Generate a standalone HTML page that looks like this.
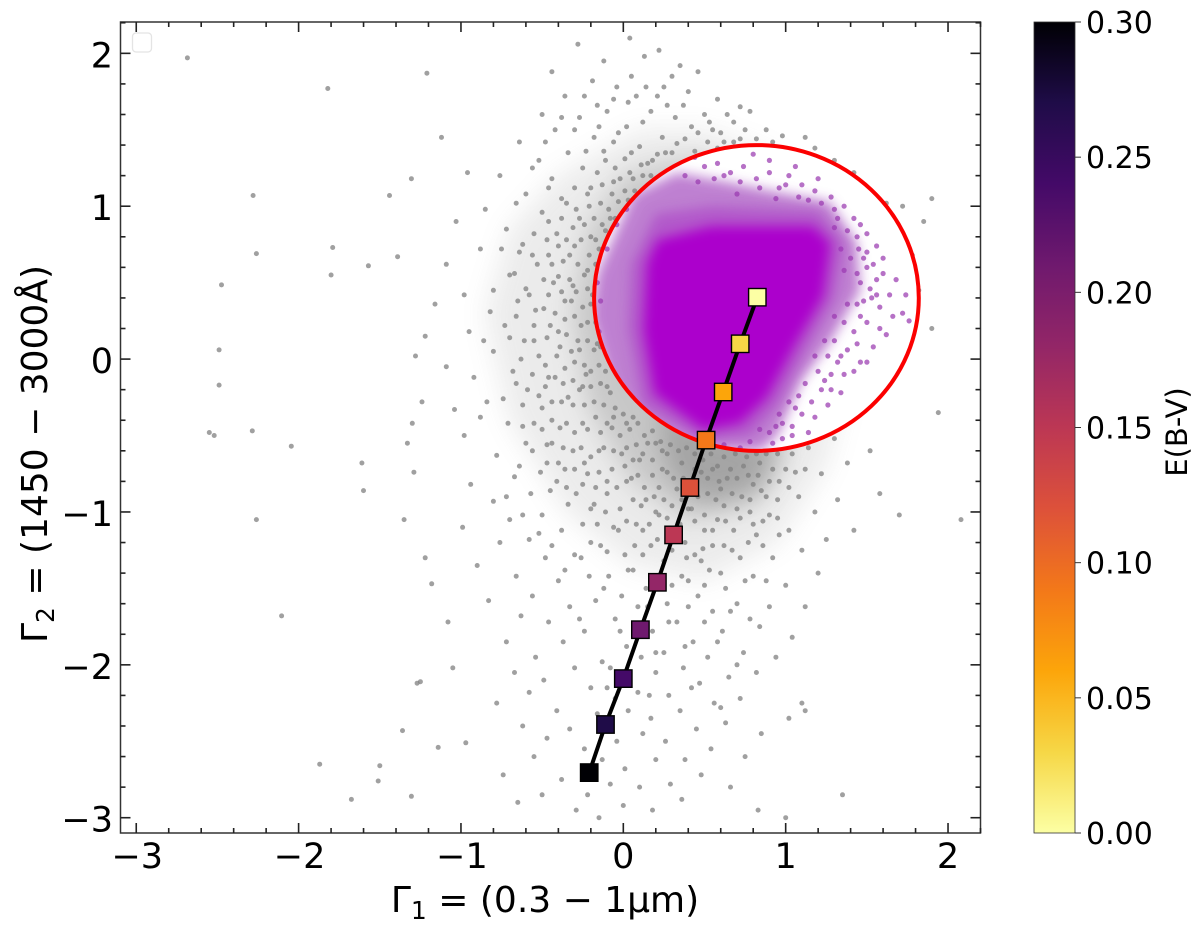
<!DOCTYPE html>
<html>
<head>
<meta charset="utf-8">
<title>Gamma colour-colour diagram</title>
<style>
html,body{margin:0;padding:0;background:#fff;width:1200px;height:931px;overflow:hidden}
svg{display:block}
text{font-family:"DejaVu Sans","Liberation Sans",sans-serif;fill:#000}
</style>
</head>
<body>
<svg id="chart" xmlns="http://www.w3.org/2000/svg" width="1200" height="931" viewBox="0 0 1200 931">
  <defs>
    <filter id="blur-wide" filterUnits="userSpaceOnUse" x="0" y="0" width="1200" height="931"><feGaussianBlur stdDeviation="13"/></filter>
    <filter id="blur-narrow" filterUnits="userSpaceOnUse" x="0" y="0" width="1200" height="931"><feGaussianBlur stdDeviation="6"/></filter>
    <clipPath id="plot-clip"><rect x="120.5" y="22" width="860" height="811"/></clipPath>
    <linearGradient id="colorbar-gradient" x1="0" y1="1" x2="0" y2="0"></linearGradient>
  </defs>
  <g id="density" clip-path="url(#plot-clip)"></g>
  <g id="grey-points" clip-path="url(#plot-clip)"></g>
  <g id="selection" clip-path="url(#plot-clip)"></g>
  <g id="track"></g>
  <rect x="132.5" y="33" width="19" height="19" rx="3.5" fill="#fff" stroke="#e4e4e4" stroke-width="1.3"/>
  <g id="axes"></g>
  <text x="545" y="912" text-anchor="middle" font-size="36">Γ<tspan font-size="25" dy="7">1</tspan><tspan dy="-7"> = (0.3 − 1μm)</tspan></text>
  <text transform="translate(47,454) rotate(-90)" text-anchor="middle" font-size="36">Γ<tspan font-size="25" dy="7">2</tspan><tspan dy="-7"> = (1450 − 3000Å)</tspan></text>
  <rect x="1034" y="22" width="41" height="811" fill="url(#colorbar-gradient)" stroke="#333" stroke-width="0.8"/>
  <g id="colorbar-axis"></g>
  <text transform="translate(1187,432) rotate(-90)" text-anchor="middle" font-size="29">E(B-V)</text>
</svg>
<script>
const xTicks = [-3, -2, -1, 0, 1, 2];
const yTicks = [-3, -2, -1, 0, 1, 2];
const colorbarTicks = [0, 0.05, 0.10, 0.15, 0.20, 0.25, 0.30];
const trackEbv = [0, 0.03, 0.06, 0.09, 0.12, 0.15, 0.18, 0.21, 0.24, 0.27, 0.30];
const trackGamma1 = [0.825, 0.72, 0.615, 0.51, 0.41, 0.31, 0.21, 0.105, 0, -0.11, -0.21];
const trackGamma2 = [0.405, 0.10, -0.215, -0.53, -0.84, -1.15, -1.46, -1.77, -2.09, -2.39, -2.705];
const colormapStops = ["#fcffa4", "#f6d746", "#fca50a", "#f37819", "#dd513a", "#bc3754", "#932667", "#6f196e", "#440a68", "#1f0c48", "#000004"];
const selectionCircle = { gamma1: 0.82, gamma2: 0.4, radius: 1 };

const greyDensityOuter = [[-0.85,0.3],[-0.7,0.85],[-0.4,1.2],[0.1,1.5],[0.5,1.5],[0.9,1.35],[1.3,1.0],[1.42,0],[1.25,-0.7],[0.95,-1.2],[0.5,-1.45],[0.05,-1.35],[-0.35,-1.0],[-0.7,-0.4]];
const greyDensityMiddle = [[-0.32,0.3],[-0.22,0.85],[0,1.2],[0.4,1.32],[0.8,1.2],[0.9,0],[1.0,-0.62],[0.8,-0.95],[0.4,-1.05],[0.05,-0.8],[-0.22,-0.3]];
const greyDensityInner = [[0.2,-0.3],[0.5,-0.45],[0.95,-0.55],[0.85,-0.85],[0.5,-0.95],[0.28,-0.75]];
const purpleFringeOutline = [[-0.16,0.56],[0.06,1.08],[0.33,1.22],[0.64,1.16],[1.01,1.08],[1.27,1.03],[1.44,0.76],[1.46,0.45],[1.28,0.12],[1.1,-0.14],[0.95,-0.5],[0.85,-0.6],[0.495,-0.6],[0.15,-0.45],[-0.08,-0.16],[-0.2,0.28]];
const purpleMidOutline = [[0.05,0.62],[0.2,0.95],[0.55,1.0],[1.2,0.97],[1.36,0.76],[1.3,0.4],[1.12,0.05],[0.95,-0.3],[0.78,-0.5],[0.495,-0.53],[0.12,-0.3],[0.03,0.2]];
const purpleCoreOutline = [[0.21,0.78],[0.54,0.87],[1.17,0.87],[1.275,0.76],[1.23,0.41],[1.05,0.08],[0.885,-0.25],[0.72,-0.42],[0.495,-0.465],[0.19,-0.225],[0.125,0.19],[0.146,0.63]];

const greyPoints = [
[-2.685,1.97],[-1.82,1.77],[-1.21,1.87],[-2.28,1.07],[-2.26,0.69],[-2.475,0.485],[-2.49,0.06],[-2.49,-0.17],[-2.55,-0.48],[-2.52,-0.5],[-2.285,-0.47],[-2.045,-0.57],[-2.26,-1.05],[-2.105,-1.68],[-1.79,0.73],[-1.8,0.55],[-1.57,0.61],[-1.39,0.67],[-1.44,1.07],[-1.305,1.18],[-1.12,1.45],[-1.61,-0.68],[-1.6,-0.86],[-1.87,-2.65],[-1.5,-2.66],[-1.51,-2.76],[-1.675,-2.88],[-1.305,-2.86],[-1.25,-2.11],[-1.27,-2.12],[-1.36,-2.43],[-1.14,-2.54],[-0.97,-2.51],[-1.24,-0.28],[-1.3,-0.42],[-1.33,-0.55],[-1.29,-0.74],[-1.35,-1.05],[-1.22,-1.3],[-1.18,-1.47],[-1.08,-1.72],[-1.05,-2.02],[-1.16,0.36],[-1.22,0.15],[-1.28,0.02],[-1.09,0.62],[-1.03,0.9],[-0.96,1.22],[-1.09,-0.05],[-1.04,-0.33],
[-0.98,0.42],[-0.95,0.18],[-0.92,-0.12],[-0.98,-0.5],[-0.94,-0.82],[-0.99,-1.1],[-0.9,-1.35],[-0.88,0.72],[-0.85,0.98],[-0.82,0.31],[-0.8,0.05],[-0.84,-0.28],[-0.78,-0.63],[-0.8,-0.93],[-0.76,-1.2],[-0.83,-1.58],[-0.72,-1.85],[-0.78,-2.25],[-0.74,-2.72],[-0.76,1.2],[-0.72,0.85],[-0.7,0.55],[-0.73,0.22],[-0.68,-0.08],[-0.71,-0.42],[-0.67,-0.77],[-0.7,-1.05],[-0.66,-1.42],[-0.63,-1.68],[-0.67,-2.05],[-0.62,-2.4],[-0.65,-2.9],[-0.64,1.42],[-0.6,1.08],[-0.62,0.75],[-0.58,0.42],[-0.61,0.12],[-0.59,-0.2],[-0.6,-0.55],[-0.57,-0.88],[-0.58,-1.18],[-0.56,-1.55],[-0.54,-1.95],[-0.58,-2.18],[-0.55,-2.6],
[-0.5,1.6],[-0.52,1.3],[-0.5,0.96],[-0.53,0.62],[-0.49,0.33],[-0.52,0.02],[-0.5,-0.32],[-0.47,-0.68],[-0.5,-1.02],[-0.48,-1.3],[-0.46,-1.72],[-0.49,-2.1],[-0.47,-2.48],[-0.5,-2.85],[-0.44,1.88],[-0.42,1.5],[-0.44,1.18],[-0.41,0.82],[-0.43,0.5],[-0.4,0.18],[-0.42,-0.12],[-0.39,-0.45],[-0.41,-0.8],[-0.38,-1.12],[-0.4,-1.45],[-0.37,-1.85],[-0.41,-2.3],[-0.38,-2.75],[-0.36,1.72],[-0.34,1.35],[-0.35,1.02],[-0.33,0.68],[-0.36,0.38],[-0.32,0.05],[-0.34,-0.25],[-0.31,-0.6],[-0.34,-0.95],[-0.3,-1.28],[-0.33,-1.62],[-0.3,-2.02],[-0.33,-2.42],[-0.29,-2.95],
[-0.28,2.06],[-0.27,1.58],[-0.25,1.25],[-0.27,0.92],[-0.24,0.55],[-0.26,0.22],[-0.23,-0.1],[-0.25,-0.42],[-0.22,-0.75],[-0.25,-1.08],[-0.21,-1.42],[-0.24,-1.78],[-0.2,-2.15],[-0.24,-2.55],[-0.22,-2.85],[-0.19,1.82],[-0.18,1.45],[-0.2,1.12],[-0.17,0.78],[-0.19,0.42],[-0.16,0.1],[-0.18,-0.28],[-0.15,-0.6],[-0.18,-0.95],[-0.14,-1.22],[-0.17,-1.58],[-0.13,-1.98],[-0.16,-2.32],[-0.13,-2.62],[-0.15,-3.0],
[-0.12,1.95],[-0.1,1.62],[-0.11,1.3],[-0.09,0.98],[-0.07,-0.45],[-0.1,-0.8],[-0.06,-1.1],[-0.09,-1.42],[-0.05,-1.7],[-0.08,-2.02],[-0.05,-2.22],[-0.04,-2.5],[-0.08,-2.78],[-0.04,1.78],[-0.03,1.48],[-0.02,1.18],[-0.01,-0.62],[-0.02,-0.98],[0.01,-1.28],[-0.01,-1.55],[0.02,-1.88],[0.03,-2.3],[0.01,-2.68],[0.0,-2.92],[0.04,2.1],[0.03,1.68],[0.05,1.35],[0.07,1.1],[0.05,-0.78],[0.08,-1.08],[0.06,-1.38],[0.09,-1.62],[0.11,-1.95],[0.09,-2.18],[0.12,-2.45],[0.1,-2.8],[0.13,1.98],[0.12,1.55],[0.15,1.28],
[0.15,-0.55],[0.14,-0.92],[0.17,-1.22],[0.14,-1.5],[0.18,-1.78],[0.2,-2.05],[0.17,-2.35],[0.2,-2.62],[0.18,-2.95],[0.22,2.02],[0.21,1.72],[0.24,1.45],[0.24,-0.72],[0.22,-1.02],[0.25,-1.32],[0.27,-1.6],[0.25,-1.92],[0.28,-2.2],[0.26,-2.5],[0.29,-2.78],[0.3,1.85],[0.32,1.58],[0.3,1.35],[0.33,-0.85],[0.34,-1.18],[0.36,-1.42],[0.33,-1.72],[0.37,-2.02],[0.35,-2.3],[0.38,-2.62],[0.36,-2.88],[0.4,1.75],[0.42,1.52],[0.42,-0.98],[0.44,-1.28],[0.46,-1.55],[0.43,-1.85],[0.47,-2.12],[0.45,-2.42],[0.48,-2.72],[0.5,1.6],[0.52,1.42],[0.5,-1.12],[0.53,-1.38],[0.55,-1.65],[0.52,-1.95],[0.56,-2.25],[0.54,-2.55],[0.58,1.7],[0.6,1.48],[0.6,-0.85],[0.62,-1.22],[0.63,-1.5],[0.61,-1.78],[0.65,-2.08],[0.63,-2.38],[0.66,-2.8],
[0.68,1.55],[0.72,1.44],[0.7,-0.98],[0.72,-1.3],[0.7,-1.6],[0.74,-1.92],[0.72,-2.22],[0.75,-2.6],[0.78,1.62],[0.8,-0.82],[0.82,-1.15],[0.8,-1.42],[0.84,-1.75],[0.82,-2.05],[0.85,-2.45],[0.83,-2.95],[0.88,1.5],[0.9,-1.02],[0.92,-1.3],[0.9,-1.62],[0.94,-1.95],[0.98,1.46],[1.0,-0.72],[1.02,-1.12],[1.0,-1.48],[1.04,-1.82],[1.02,-2.35],[1.0,-3.0],[1.08,-0.9],[1.1,-1.25],[1.12,-1.62],[1.1,-2.25],[1.12,-2.3],[1.14,-0.58],[1.18,-1.0],[1.2,-1.4],[1.22,-0.75],[1.25,-1.18],[1.3,-0.52],[1.32,-0.92],[1.35,-2.85],[1.38,-0.68],[1.42,-1.12],[1.45,-0.35],[1.52,-0.6],[1.58,-0.88],[1.7,-1.02],[1.82,0.45],[1.9,0.2],[1.94,-0.35],[1.85,0.9],[1.9,1.05],[1.72,1.0],[1.78,0.68],[2.08,-1.05],[1.12,1.45],[1.18,1.38],[1.3,1.3],[1.42,1.22],[1.5,1.12],[1.62,1.02],
[-0.35,0.78],[-0.31,0.48],[-0.28,0.12],[-0.25,-0.18],[-0.21,0.68],[-0.14,0.32],[-0.13,0.88],[-0.1,-0.18],[-0.07,1.08],[-0.05,-0.32],[0.0,0.96],[0.02,-0.42],[0.06,-0.38],[0.1,-0.66],[0.2,-0.55],[0.27,-0.62],[0.36,-0.68],[0.44,-0.72],[0.52,-0.78],[0.58,-0.7],[0.66,-0.72],[0.74,-0.7],[0.84,-0.68],[0.92,-0.72],[1.0,-0.58],[1.1,-0.52],[1.18,-0.42],[1.24,-0.5],[0.12,1.2],[0.18,1.3],[0.26,1.35],[0.38,1.44],[0.46,1.48],[0.55,1.5],
[-0.45,0.22],[-0.46,0.68],[-0.55,0.22],[-0.65,0.38],[-0.48,-0.18],[-0.55,-0.42],[-0.62,-0.3],[-0.44,-0.55],[-0.36,-0.72],[-0.29,-0.88],[-0.2,-0.98],[-0.11,-1.0],[-0.03,-1.12],[0.07,-1.22],[0.16,-1.08],[0.29,-1.12],[0.39,-1.3],[0.49,-1.24],[0.58,-1.05],[0.68,-1.12],[0.78,-1.0],[0.88,-0.9],[0.96,-1.15],[-0.23,1.36],[-0.15,1.52],[-0.06,1.42],[0.02,1.52],[0.08,1.72],[0.17,1.62],[0.27,1.66],[0.35,1.92],[0.46,1.88],
[-0.12,1.36],[0.01,1.31],[0.1,1.39],[0.21,1.34],[0.33,1.41],[0.44,1.36],[0.62,1.42],[-0.16,1.22],[-0.05,1.25],[0.04,1.22],[0.11,1.27],[0.17,1.2],[-0.3,1.12],[-0.22,1.08],[-0.13,1.14],[-0.06,1.16],[0.01,1.1],[0.06,1.18],[-0.38,1.05],[-0.29,0.98],[-0.21,1.0],[-0.14,1.02],[-0.08,0.92],[-0.03,1.03],[0.03,1.04],[-0.46,0.9],[-0.38,0.92],[-0.31,0.86],[-0.24,0.88],[-0.18,0.92],[-0.11,0.84],[-0.05,0.92],[-0.03,0.82],[-0.55,0.82],[-0.47,0.78],[-0.4,0.74],[-0.3,0.74],[-0.26,0.78],[-0.2,0.8],[-0.15,0.72],[-0.09,0.76],[-0.06,0.7],[-0.64,0.7],[-0.56,0.68],[-0.44,0.62],[-0.37,0.64],[-0.28,0.62],[-0.22,0.58],[-0.17,0.62],[-0.12,0.58],[-0.08,0.62],[-0.67,0.56],[-0.49,0.52],[-0.4,0.54],[-0.33,0.52],[-0.29,0.44],[-0.22,0.46],[-0.16,0.5],[-0.12,0.44],[-0.6,0.46],[-0.46,0.42],[-0.38,0.44],[-0.32,0.38],[-0.25,0.34],[-0.2,0.36],[-0.15,0.38],[-0.66,0.28],[-0.54,0.32],[-0.42,0.3],[-0.36,0.26],[-0.3,0.28],[-0.22,0.24],[-0.17,0.24],[-0.14,0.18],[-0.7,0.14],[-0.55,0.12],[-0.47,0.14],[-0.39,0.08],[-0.35,0.16],[-0.27,0.06],[-0.22,0.12],[-0.18,0.06],[-0.14,0.08],[-0.63,0.0],[-0.48,-0.04],[-0.41,0.02],[-0.36,-0.06],[-0.3,-0.02],[-0.24,-0.04],[-0.2,-0.08],[-0.15,-0.04],[-0.11,-0.08],[-0.66,-0.16],[-0.56,-0.1],[-0.46,-0.12],[-0.37,-0.16],[-0.31,-0.14],[-0.27,-0.2],[-0.2,-0.18],[-0.14,-0.16],[-0.08,-0.22],[-0.74,-0.26],[-0.52,-0.24],[-0.44,-0.28],[-0.38,-0.28],[-0.31,-0.3],[-0.24,-0.3],[-0.17,-0.38],[-0.12,-0.3],[-0.06,-0.38],[0.0,-0.36],
[-0.62,-0.44],[-0.5,-0.46],[-0.44,-0.4],[-0.35,-0.42],[-0.3,-0.48],[-0.22,-0.46],[-0.14,-0.48],[-0.1,-0.42],[-0.02,-0.5],[0.04,-0.46],[0.09,-0.42],[-0.56,-0.6],[-0.47,-0.56],[-0.37,-0.58],[-0.26,-0.58],[-0.2,-0.64],[-0.12,-0.58],[-0.06,-0.6],[0.02,-0.58],[0.08,-0.56],[0.13,-0.5],[0.18,-0.47],[0.23,-0.54],[-0.64,-0.7],[-0.51,-0.74],[-0.4,-0.68],[-0.3,-0.72],[-0.24,-0.68],[-0.15,-0.74],[-0.07,-0.72],[0.01,-0.7],[0.06,-0.66],[0.12,-0.62],[0.18,-0.66],[0.24,-0.6],[0.29,-0.56],[0.34,-0.6],[0.39,-0.58],[0.44,-0.62],[0.49,-0.66],[0.54,-0.62],[0.62,-0.64],[0.69,-0.62],[0.76,-0.64],[0.82,-0.62],[0.88,-0.62],[0.95,-0.62],[1.04,-0.62],[-0.45,-0.86],[-0.35,-0.84],[-0.25,-0.82],[-0.17,-0.84],[-0.1,-0.88],[-0.04,-0.84],[0.02,-0.8],[0.09,-0.76],[0.13,-0.84],[0.18,-0.76],[0.22,-0.84],[0.27,-0.74],[0.31,-0.78],[0.37,-0.78],[0.43,-0.82],[0.48,-0.74],[0.55,-0.72],[0.59,-0.8],[0.64,-0.78],[0.7,-0.78],[0.77,-0.76],[0.83,-0.76],[0.9,-0.8],[0.96,-0.8],[1.06,-0.74],[1.12,-0.72],
[0.06,-0.92],[0.11,-0.96],[0.19,-0.9],[0.25,-0.92],[0.3,-0.96],[0.36,-0.92],[0.4,-0.98],[0.46,-0.9],[0.52,-0.88],[0.57,-0.92],[0.62,-0.96],[0.67,-0.88],[0.73,-0.9],[0.78,-0.92],[0.85,-0.86],[0.95,-0.92],[1.02,-0.84],[0.02,-1.06],[0.12,-1.12],[0.2,-1.0],[0.27,-1.04],[0.35,-1.08],[0.44,-1.06],[0.5,-1.02],[0.55,-1.12],[0.63,-1.06],[0.72,-1.04],[0.8,-1.08],[0.86,-1.06],[0.95,-1.04],[0.12,-1.28],[0.21,-1.18],[0.3,-1.25],[0.38,-1.2],[0.48,-1.32],[0.55,-1.22],[0.67,-1.25],[0.77,-1.2],[0.86,-1.22],[-0.2,-1.2],[-0.1,-1.26],[0.03,-1.38],[0.21,-1.42],[0.3,-1.48],[0.4,-1.45],[0.5,-1.48],[0.6,-1.4],[0.75,-1.45],[0.88,-1.45],[-0.12,-1.5],[0.15,-1.62],[0.28,-1.72],[0.4,-1.62],[0.5,-1.72],[0.66,-1.65],[0.78,-1.7],[-0.27,-1.7],[-0.02,-1.78],[0.2,-1.92],[0.38,-1.88],[0.58,-1.85],[0.7,-2.0],[-0.1,-2.15],[0.16,-2.2],[0.42,-2.15],[0.6,-2.28],
[0.63,1.35],[0.68,1.42],[0.75,1.5],[0.82,1.44],[0.92,1.42],[0.58,1.38],[0.53,1.55],[0.64,1.6],[0.72,1.65],[0.37,1.66],[0.25,1.78],[0.14,1.78],[0.05,1.85],[-0.06,1.7],[-0.16,1.66],[-0.24,1.72],[-0.3,1.5],[-0.38,1.58],[-0.48,1.42],[-0.56,1.25],[-0.46,1.12],[-0.66,1.02],[-0.75,0.72],[-0.8,0.45],[-0.86,0.12],[-0.88,-0.38],[-0.72,-0.9],[-0.62,-1.02],[-0.52,-1.14],[-0.44,-1.22],[-0.26,-1.3],[-0.36,-1.38],[-0.16,-1.08]
];

const purplePoints = [
[1.45,0.72],[1.5,0.6],[1.52,0.46],[1.48,0.38],[1.56,0.52],[1.6,0.66],[1.46,0.28],[1.42,0.18],[1.5,0.24],[1.58,0.34],[1.64,0.42],[1.72,0.3],[1.76,0.25],[1.62,0.16],[1.54,0.08],[1.38,0.06],[1.32,-0.02],[1.42,-0.08],[1.5,-0.02],[1.28,-0.1],[1.22,-0.2],[1.16,-0.28],[1.26,-0.3],[1.34,-0.22],[1.1,-0.36],[1.04,-0.44],[1.14,-0.48],[0.98,-0.52],[1.32,0.92],[1.38,0.84],[1.46,0.88],[1.5,0.82],[1.56,0.74],[1.28,1.06],[1.36,1.0],[1.18,1.1],[1.1,1.14],[1.02,1.2],[0.96,1.12],[0.9,1.22],[0.82,1.18],[0.74,1.26],[0.66,1.22],[0.58,1.28],[0.5,1.26],[0.44,1.32],[0.9,1.3],[0.8,1.34],[1.06,1.26],[1.2,1.18],[0.56,1.18],[0.7,1.08],[0.94,1.05],[1.08,1.06],[1.34,0.72],[1.36,0.58],[1.38,0.36],[1.3,0.28],[1.24,0.12],[1.18,0.02],[1.12,-0.16],[1.02,-0.28],[0.96,-0.36],[0.92,-0.55],[1.3,0.86],[1.4,0.66],[1.5,0.7],[-0.14,0.38],[-0.16,0.5],[-0.15,0.18],[-0.14,0.06],[-0.1,0.72],[-0.04,0.88],[0.02,0.98],[0.12,1.12],[0.2,1.2],[0.3,1.28],[0.38,1.2],[0.46,1.16],[-0.1,-0.02],[-0.06,-0.14],[0.0,-0.24],[0.08,-0.32],[0.14,-0.38],[0.24,-0.44],[0.34,-0.5],[0.62,-0.56],[0.72,-0.58],[0.78,-0.54],[0.84,-0.46],[1.44,0.56],[1.68,0.52],[1.74,0.42],[1.58,0.2],[1.66,0.28],
[0.62,1.2],[0.72,1.16],[0.84,1.12],[1.0,1.14],[1.14,1.04],[1.22,1.02],[1.3,0.98],[1.42,0.92],[1.44,0.8],[1.48,0.66],[1.46,0.5],[1.53,0.4],[1.44,0.36],[1.36,0.24],[1.44,0.1],[1.3,0.12],[1.26,0.02],[1.36,-0.1],[1.2,-0.08],[1.24,-0.14],[1.08,-0.24],[1.18,-0.38],[1.06,-0.32],[0.98,-0.42],[1.04,-0.5],[0.9,-0.48],[0.94,-0.44],[1.28,-0.2],[1.34,0.02],[1.46,-0.02],[1.56,0.42],[1.6,0.56],[1.54,0.62]
];

const SVG_NS = "http://www.w3.org/2000/svg";
const plot = { left: 120.5, right: 980.5, top: 22, bottom: 833 };
const xDomain = [-3.097, 2.2];
const yDomain = [2.205, -3.1];
const colorbarDomain = [0, 0.30];
const sx = v => plot.left + (v - xDomain[0]) / (xDomain[1] - xDomain[0]) * (plot.right - plot.left);
const sy = v => plot.top + (v - yDomain[0]) / (yDomain[1] - yDomain[0]) * (plot.bottom - plot.top);
const cy = v => plot.bottom - (v - colorbarDomain[0]) / (colorbarDomain[1] - colorbarDomain[0]) * (plot.bottom - plot.top);

function make(tag, attrs, parent) {
  const el = document.createElementNS(SVG_NS, tag);
  for (const k in attrs) el.setAttribute(k, attrs[k]);
  parent.appendChild(el);
  return el;
}
function hexToRgb(h) {
  return [parseInt(h.slice(1,3),16), parseInt(h.slice(3,5),16), parseInt(h.slice(5,7),16)];
}
function colormap(ebv) {
  const t = Math.min(1, Math.max(0, (ebv - colorbarDomain[0]) / (colorbarDomain[1] - colorbarDomain[0]))) * (colormapStops.length - 1);
  const i = Math.min(colormapStops.length - 2, Math.floor(t));
  const a = hexToRgb(colormapStops[i]), b = hexToRgb(colormapStops[i + 1]), f = t - i;
  return "rgb(" + a.map((c, k) => Math.round(c + (b[k] - c) * f)).join(",") + ")";
}
function polygonPoints(outline) {
  return outline.map(p => sx(p[0]).toFixed(1) + "," + sy(p[1]).toFixed(1)).join(" ");
}

const densityLayer = document.getElementById("density");
const greyLayer = document.getElementById("grey-points");
const selectionLayer = document.getElementById("selection");
const trackLayer = document.getElementById("track");
const axesLayer = document.getElementById("axes");
const colorbarAxis = document.getElementById("colorbar-axis");

const densityOuter = make("polygon", { points: polygonPoints(greyDensityOuter), fill: "#8a8a8a", opacity: 0.16, filter: "url(#blur-wide)" }, densityLayer);


const densityMiddle = make("polygon", { points: polygonPoints(greyDensityMiddle), fill: "#858585", opacity: 0.34, filter: "url(#blur-wide)" }, densityLayer);


const densityInner = make("polygon", { points: polygonPoints(greyDensityInner), fill: "#828282", opacity: 0.5, filter: "url(#blur-wide)" }, densityLayer);



greyPoints.forEach(p => {
  const dot = make("circle", { cx: sx(p[0]).toFixed(1), cy: sy(p[1]).toFixed(1), r: 2.5, fill: "#808080", "fill-opacity": 0.75 }, greyLayer);
  
  
});

const circleRx = sx(selectionCircle.gamma1 + selectionCircle.radius) - sx(selectionCircle.gamma1);
const circleRy = sy(selectionCircle.gamma2 - selectionCircle.radius) - sy(selectionCircle.gamma2);
const circleBg = make("ellipse", { cx: sx(selectionCircle.gamma1), cy: sy(selectionCircle.gamma2), rx: circleRx, ry: circleRy, fill: "#fff" }, selectionLayer);



const selectionClipPath = make("clipPath", { id: "circle-clip" }, document.querySelector("#chart defs"));


const selectionClipShape = make("ellipse", { cx: sx(selectionCircle.gamma1), cy: sy(selectionCircle.gamma2), rx: circleRx, ry: circleRy }, selectionClipPath);


const insideCircle = make("g", { "clip-path": "url(#circle-clip)" }, selectionLayer);



const fringe = make("polygon", { points: polygonPoints(purpleFringeOutline), fill: "#a650c0", opacity: 0.72, filter: "url(#blur-narrow)" }, insideCircle);



purplePoints.forEach(p => {
  const dot = make("circle", { cx: sx(p[0]).toFixed(1), cy: sy(p[1]).toFixed(1), r: 2.6, fill: "#9a3ab0", "fill-opacity": 0.72 }, insideCircle);
  
  
});

const mid = make("polygon", { points: polygonPoints(purpleMidOutline), fill: "#a730c4", opacity: 0.5, filter: "url(#blur-narrow)" }, insideCircle);



const core = make("polygon", { points: polygonPoints(purpleCoreOutline), fill: "#ac00cc", filter: "url(#blur-narrow)" }, insideCircle);



const redCircle = make("ellipse", { cx: sx(selectionCircle.gamma1), cy: sy(selectionCircle.gamma2), rx: circleRx, ry: circleRy, fill: "none", stroke: "#fb0000", "stroke-width": 4 }, trackLayer);



const trackLine = make("polyline", { points: trackGamma1.map((g, i) => sx(g).toFixed(1) + "," + sy(trackGamma2[i]).toFixed(1)).join(" "), fill: "none", stroke: "#000", "stroke-width": 4 }, trackLayer);



trackEbv.forEach((e, i) => {
  const mark = make("rect", { x: (sx(trackGamma1[i]) - 8.7).toFixed(1), y: (sy(trackGamma2[i]) - 8.7).toFixed(1), width: 17.4, height: 17.4, fill: colormap(e), stroke: "#000", "stroke-width": 1.4 }, trackLayer);
  
  
});

const frame = make("rect", { x: plot.left, y: plot.top, width: plot.right - plot.left, height: plot.bottom - plot.top, fill: "none", stroke: "#333", "stroke-width": 1.5 }, axesLayer);



function addTick(x1, y1, x2, y2) {
  const t = make("line", { x1, y1, x2, y2, stroke: "#222", "stroke-width": 1.6 }, axesLayer);
  
  
}
const fmt = v => (v < 0 ? "\u2212" : "") + Math.abs(v);
const minorCount = 5;
for (let i = 0; i < xTicks.length + 1; i++) {
  const base = xTicks[0] + i - 1;
  for (let m = 0; m < minorCount; m++) {
    const v = base + m / minorCount;
    if (v < xDomain[0] || v > xDomain[1]) continue;
    const len = m === 0 ? 10 : 5;
    addTick(sx(v), plot.bottom, sx(v), plot.bottom - len);
    addTick(sx(v), plot.top, sx(v), plot.top + len);
  }
}
for (let i = 0; i < yTicks.length + 1; i++) {
  const base = yTicks[0] + i - 1;
  for (let m = 0; m < minorCount; m++) {
    const v = base + m / minorCount;
    if (v > yDomain[0] || v < yDomain[1]) continue;
    const len = m === 0 ? 10 : 5;
    addTick(plot.left, sy(v), plot.left + len, sy(v));
    addTick(plot.right, sy(v), plot.right - len, sy(v));
  }
}
xTicks.forEach(v => {
  const t = make("text", { x: sx(v) + (v < 0 ? 1 : 0), y: 868, "text-anchor": "middle", "font-size": 35 }, axesLayer);
  t.textContent = fmt(v);
  
  
});
yTicks.forEach(v => {
  const t = make("text", { x: 113, y: sy(v) + 14, "text-anchor": "end", "font-size": 35 }, axesLayer);
  t.textContent = fmt(v);
  
  
});

const gradient = document.getElementById("colorbar-gradient");
colormapStops.forEach((c, i) => {
  const s = make("stop", { offset: i / (colormapStops.length - 1), "stop-color": c }, gradient);
  
  
});
colorbarTicks.forEach(v => {
  const t = make("line", { x1: 1075, y1: cy(v), x2: 1081, y2: cy(v), stroke: "#333", "stroke-width": 1 }, colorbarAxis);
  
  
  const l = make("text", { x: 1086, y: cy(v) + 11, "font-size": 30 }, colorbarAxis);
  l.textContent = v.toFixed(2);
  
  
});
</script>
</body>
</html>
